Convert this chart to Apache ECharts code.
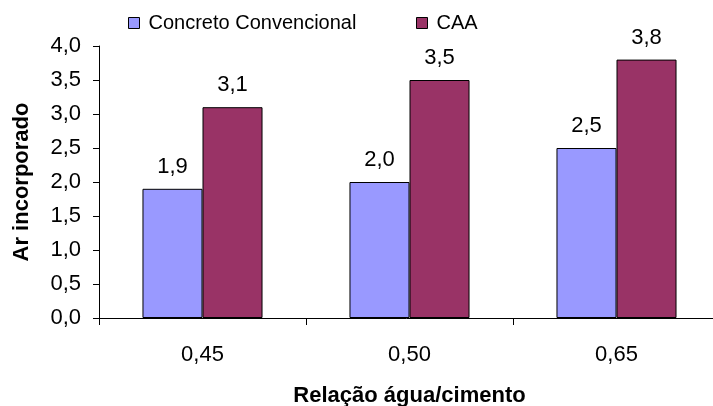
<!DOCTYPE html>
<html>
<head>
<meta charset="utf-8">
<script src="https://cdn.jsdelivr.net/npm/echarts@6/dist/echarts.min.js"></script>
<style>
  html, body { margin: 0; padding: 0; background: #fff; }
  #chart { width: 713px; height: 406px; }
</style>
</head>
<body>
<div id="chart"></div>
<script>
// Air content by water/cement ratio
const categories = ['0,45', '0,50', '0,65'];
const seriesNames = ['Concreto Convencional', 'CAA'];
const convencional = [1.9, 2.0, 2.5];
const caa = [3.1, 3.5, 3.8];
const yTicks = { min: 0, max: 4, interval: 0.5 };

const FONT = 'Liberation Sans, Arial, sans-serif';
const fmt = v => v.toFixed(1).replace('.', ',');

const chart = echarts.init(document.getElementById('chart'), null, { renderer: 'canvas' });

const barLabel = {
  show: true,
  position: 'top',
  distance: 11,
  color: '#000',
  fontFamily: FONT,
  fontSize: 22,
  formatter: p => fmt(p.value)
};

const legendBase = {
  top: 8,
  itemWidth: 11, itemHeight: 11,
  icon: 'rect',
  itemStyle: { borderColor: '#000', borderWidth: 1 },
  textStyle: { fontFamily: FONT, fontSize: 20, color: '#000', padding: [0, 0, 0, 4] }
};

chart.setOption({
  animation: false,
  backgroundColor: '#fff',
  textStyle: { fontFamily: FONT, color: '#000' },
  grid: { left: 99, right: -7, top: 46, bottom: 88, containLabel: false, outerBoundsMode: 'none' },
  legend: [
    Object.assign({ data: [seriesNames[0]], left: 123 }, legendBase),
    Object.assign({ data: [seriesNames[1]], left: 411 }, legendBase)
  ],
  xAxis: {
    type: 'category',
    data: categories,
    name: 'Relação água/cimento',
    nameLocation: 'middle',
    nameGap: 67,
    nameTextStyle: { fontFamily: FONT, fontSize: 22, fontWeight: 'bold', color: '#000' },
    axisLine: { lineStyle: { color: '#000', width: 1 } },
    axisTick: { show: true, length: 7, inside: false, lineStyle: { color: '#000' } },
    axisLabel: { color: '#000', fontFamily: FONT, fontSize: 22, margin: 26 },
    splitLine: { show: false }
  },
  yAxis: {
    type: 'value',
    min: yTicks.min, max: yTicks.max, interval: yTicks.interval,
    name: 'Ar incorporado',
    nameLocation: 'middle',
    nameGap: 66,
    nameTextStyle: { fontFamily: FONT, fontSize: 22, fontWeight: 'bold', color: '#000' },
    axisLine: { show: true, lineStyle: { color: '#000', width: 1 } },
    axisTick: { show: true, length: 6, lineStyle: { color: '#000' } },
    axisLabel: { color: '#000', fontFamily: FONT, fontSize: 22, margin: 18, formatter: v => fmt(v) },
    splitLine: { show: false }
  },
  series: [
    {
      name: seriesNames[0],
      type: 'bar',
      data: convencional,
      barGap: '0%',
      barCategoryGap: '42%',
      itemStyle: { color: '#9999FF', borderColor: '#000', borderWidth: 1 },
      label: barLabel
    },
    {
      name: seriesNames[1],
      type: 'bar',
      data: caa,
      itemStyle: { color: '#993366', borderColor: '#000', borderWidth: 1 },
      label: barLabel
    }
  ]
});
</script>
</body>
</html>
